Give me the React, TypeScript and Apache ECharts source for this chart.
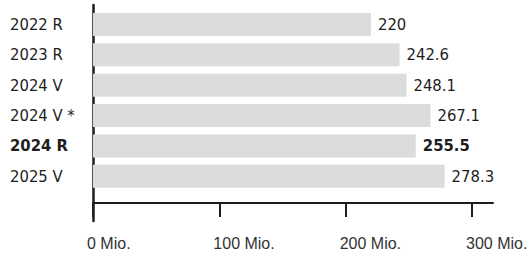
import React, { useEffect, useRef } from "react";
import * as echarts from "echarts";

const categories = ["2022 R", "2023 R", "2024 V", "2024 V *", "2024 R", "2025 V"];
const values = [220, 242.6, 248.1, 267.1, 255.5, 278.3];
const boldCategory = "2024 R";
const tickValues = [0, 100, 200, 300];
const axisMax = 316.6;

const condensed = "'DejaVu Sans Condensed', 'Liberation Sans Narrow', sans-serif";
const regular = "'Liberation Sans', Arial, sans-serif";
const ink = "#1e1e1e";
const catFontSize = 16.5;

export default function App() {
  const ref = useRef<HTMLDivElement>(null);
  useEffect(() => {
    if (!ref.current) return;
    const chart = echarts.init(ref.current, undefined, { renderer: "svg" });
    chart.setOption({
      animation: false,
      grid: [
        { left: 93, right: 39, top: 9.3, height: 182.2, outerBoundsMode: "none", containLabel: false },
        { left: 93, right: 39, top: 5, height: 216, outerBoundsMode: "none", containLabel: false },
        { left: 87, right: 45, top: 5, bottom: 55, outerBoundsMode: "none", containLabel: false },
      ],
      xAxis: [
        {
          gridIndex: 0,
          type: "value",
          min: 0,
          max: axisMax,
          offset: 11.6,
          axisLine: { show: true, lineStyle: { color: ink, width: 2 } },
          axisTick: { show: true, length: 14, customValues: tickValues, lineStyle: { color: ink, width: 2 } },
          axisLabel: { show: false },
          splitLine: { show: false },
        },
        {
          gridIndex: 1,
          type: "value",
          min: 0,
          max: axisMax,
          show: false,
        },
        {
          gridIndex: 2,
          type: "value",
          min: 0,
          max: axisMax,
          axisLine: { show: false },
          axisTick: { show: false },
          splitLine: { show: false },
          axisLabel: {
            show: true,
            customValues: tickValues,
            align: "left",
            margin: 32,
            formatter: "{value} Mio.",
            fontFamily: regular,
            fontSize: 16,
            color: "#333",
          },
        },
      ],
      yAxis: [
        {
          gridIndex: 0,
          type: "category",
          inverse: true,
          data: categories.map((c) =>
            c === boldCategory
              ? { value: c, textStyle: { fontWeight: "bold", align: "left" } }
              : c
          ),
          axisLine: { show: false },
          axisTick: { show: false },
          splitLine: { show: false },
          axisLabel: {
            align: "left",
            margin: 83,
            fontFamily: condensed,
            fontSize: catFontSize,
            color: ink,
          },
        },
        {
          gridIndex: 1,
          type: "value",
          axisLine: { show: true, lineStyle: { color: ink, width: 2.5 } },
          axisTick: { show: false },
          axisLabel: { show: false },
          splitLine: { show: false },
        },
        {
          gridIndex: 2,
          type: "value",
          show: false,
        },
      ],
      series: [
        {
          type: "bar",
          xAxisIndex: 0,
          yAxisIndex: 0,
          barWidth: 23,
          itemStyle: { color: "#dcdcdd" },
          label: {
            show: true,
            position: "right",
            distance: 7,
            fontFamily: condensed,
            fontSize: catFontSize,
            color: ink,
          },
          data: values.map((v, i) =>
            categories[i] === boldCategory
              ? { value: v, label: { fontWeight: "bold" } }
              : v
          ),
        },
      ],
    });
    return () => chart.dispose();
  }, []);
  return <div ref={ref} style={{ width: 532, height: 258, position: "absolute", left: 0, top: 0 }} />;
}
